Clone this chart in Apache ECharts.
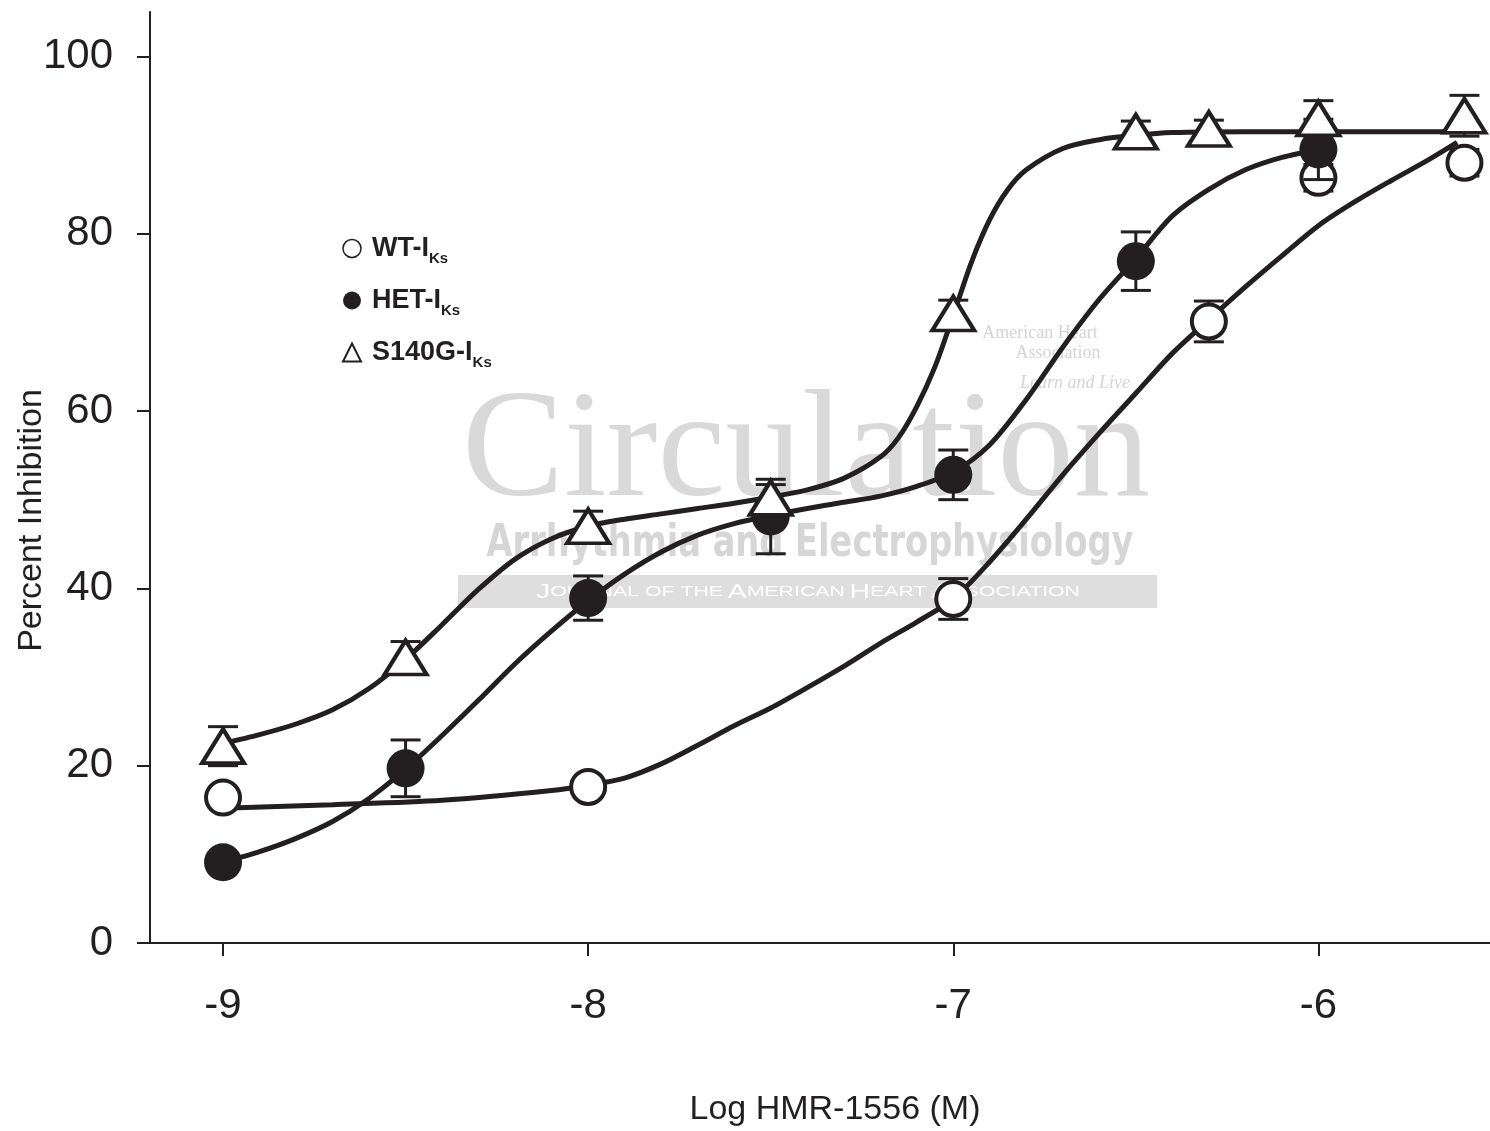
<!DOCTYPE html>
<html>
<head>
<meta charset="utf-8">
<script src="https://cdn.jsdelivr.net/npm/echarts@6/dist/echarts.min.js"></script>
<style>
html,body{margin:0;padding:0;background:#fff;}
#chart{width:1490px;height:1131px;}
</style>
</head>
<body>
<div id="chart"></div>
<script>
// ---- tick labels ----
const xTickValues = [-9, -8, -7, -6];
const yTickValues = [0, 20, 40, 60, 80, 100];

// ---- measured points (log concentration, percent inhibition, SEM) ----
const wtX   = [-9, -8, -7, -6.3, -6, -5.6];
const wtY   = [16.4, 17.6, 38.8, 70.1, 86.3, 88.0];
const wtErr = [1.0, 1.0, 2.3, 2.3, 1.5, 1.5];

const hetX   = [-9, -8.5, -8, -7.5, -7, -6.5, -6];
const hetY   = [9.1, 19.7, 38.9, 48.1, 52.8, 76.9, 89.5];
const hetErr = [1.0, 3.2, 2.5, 4.2, 2.8, 3.3, 3.4];

const triX   = [-9, -8.5, -8, -7.5, -7, -6.5, -6.3, -6, -5.6];
const triY   = [22.2, 32.2, 47.0, 50.2, 71.0, 91.5, 91.8, 93.0, 93.3];
const triErr = [2.2, 1.8, 1.7, 1.5, 1.5, 1.2, 1.0, 2.0, 2.3];

// ---- fitted curves ----
const wtCurveX = [-9.0, -8.7, -8.4, -8.1, -8.0, -7.9, -7.8, -7.7, -7.6, -7.5, -7.4, -7.3, -7.2, -7.1, -7.0, -6.9, -6.8, -6.7, -6.6, -6.5, -6.4, -6.3, -6.2, -6.1, -6.0, -5.9, -5.8, -5.7, -5.62];
const wtCurveY = [15.2, 15.6, 16.1, 17.2, 17.8, 18.6, 20.2, 22.3, 24.5, 26.5, 28.8, 31.2, 33.8, 36.2, 38.8, 43.0, 47.8, 52.8, 57.5, 62.0, 66.5, 70.3, 74.0, 77.5, 80.9, 83.6, 86.0, 88.3, 90.3];

const hetCurveX = [-9.0, -8.9, -8.8, -8.7, -8.6, -8.5, -8.4, -8.3, -8.2, -8.1, -8.0, -7.9, -7.8, -7.7, -7.6, -7.5, -7.4, -7.3, -7.2, -7.1, -7.0, -6.9, -6.8, -6.7, -6.6, -6.5, -6.4, -6.3, -6.2, -6.1, -6.0];
const hetCurveY = [9.1, 10.3, 11.8, 13.7, 16.3, 19.6, 23.4, 27.4, 31.5, 35.2, 38.6, 41.6, 44.1, 46.0, 47.3, 48.2, 49.0, 49.7, 50.4, 51.5, 53.1, 56.2, 61.3, 67.2, 72.6, 77.2, 82.0, 85.0, 87.2, 88.6, 89.5];

const triCurveX = [-9.0, -8.9, -8.8, -8.7, -8.6, -8.5, -8.4, -8.3, -8.2, -8.1, -8.0, -7.9, -7.8, -7.7, -7.6, -7.5, -7.4, -7.3, -7.2, -7.15, -7.1, -7.05, -7.0, -6.95, -6.9, -6.85, -6.8, -6.7, -6.6, -6.5, -6.4, -6.2, -6.0, -5.61];
const triCurveY = [22.5, 23.5, 24.7, 26.3, 28.7, 32.0, 35.9, 39.9, 43.3, 45.6, 47.0, 47.8, 48.4, 49.0, 49.6, 50.3, 51.1, 52.4, 54.8, 57.0, 60.5, 65.0, 70.8, 76.8, 81.6, 85.0, 87.2, 89.6, 90.6, 91.1, 91.4, 91.5, 91.5, 91.5];

const INK = '#231f20';
const FONT = "'Liberation Sans', Arial, Helvetica, sans-serif";

const zip2 = (a, b) => a.map((v, i) => [v, b[i]]);
const zip3 = (a, b, c) => a.map((v, i) => [v, b[i], c[i]]);

function errRender(params, api) {
  const x = api.value(0), y = api.value(1), e = api.value(2);
  const top = api.coord([x, y + e]);
  const bot = api.coord([x, y - e]);
  const hw = 15;
  const st = { stroke: INK, lineWidth: 3 };
  return {
    type: 'group',
    children: [
      { type: 'line', shape: { x1: top[0], y1: top[1], x2: bot[0], y2: bot[1] }, style: st },
      { type: 'line', shape: { x1: top[0] - hw, y1: top[1], x2: top[0] + hw, y2: top[1] }, style: st },
      { type: 'line', shape: { x1: bot[0] - hw, y1: bot[1], x2: bot[0] + hw, y2: bot[1] }, style: st }
    ]
  };
}

const chart = echarts.init(document.getElementById('chart'), null, { renderer: 'canvas' });

const subRich = {
  m: { fontSize: 27, fontWeight: 'bold', fontFamily: FONT, color: INK },
  s: { fontSize: 15, fontWeight: 'bold', fontFamily: FONT, color: INK, padding: [20, 0, 0, 0] }
};
const legendLabels = { 'WT': 'WT-I', 'HET': 'HET-I', 'S140G': 'S140G-I' };

const fitLine = { type: 'line', smooth: 0.3, showSymbol: false, silent: true };

const option = {
  animation: false,
  backgroundColor: '#ffffff',
  grid: { left: 150, right: 0, top: 12, bottom: 188, containLabel: false, outerBoundsMode: 'none' },
  xAxis: {
    type: 'value',
    min: -9.2, max: -5.53,
    name: 'Log HMR-1556 (M)',
    nameLocation: 'middle',
    nameGap: 150,
    nameMoveOverlap: false,
    nameTextStyle: { fontSize: 34, fontFamily: FONT, color: INK, padding: [0, 0, 0, 30] },
    axisLine: { onZero: false, lineStyle: { color: INK, width: 2 } },
    axisTick: { customValues: xTickValues, length: 13, lineStyle: { color: INK, width: 2 } },
    axisLabel: { customValues: xTickValues, fontSize: 42, fontFamily: FONT, color: INK, margin: 42 },
    splitLine: { show: false }
  },
  yAxis: {
    type: 'value',
    min: 0, max: 105,
    name: 'Percent Inhibition',
    nameLocation: 'middle',
    nameGap: 101,
    nameMoveOverlap: false,
    nameTextStyle: { fontSize: 34, fontFamily: FONT, color: INK, padding: [0, 86, 0, 0] },
    axisLine: { onZero: false, lineStyle: { color: INK, width: 2 } },
    axisTick: { customValues: yTickValues, length: 13, lineStyle: { color: INK, width: 2 } },
    axisLabel: { customValues: yTickValues, fontSize: 42, fontFamily: FONT, color: INK, margin: 37 },
    splitLine: { show: false }
  },
  legend: {
    orient: 'vertical',
    left: 337, top: 230,
    itemGap: 21,
    itemWidth: 18, itemHeight: 18,
    selectedMode: false,
    data: [
      { name: 'WT', icon: 'circle', itemStyle: { color: '#fff', borderColor: INK, borderWidth: 1.5 } },
      { name: 'HET', icon: 'circle', itemStyle: { color: INK, borderWidth: 0 } },
      { name: 'S140G', icon: 'triangle', itemStyle: { color: '#fff', borderColor: INK, borderWidth: 2 } }
    ],
    formatter: n => '{m|' + legendLabels[n] + '}{s|Ks}',
    textStyle: { rich: subRich, color: INK, padding: [0, 0, 0, 6] }
  },
  graphic: [
    { type: 'text', z: 0, x: 462, y: 455, style: { text: 'Circulation', fontSize: 153, fontFamily: "'Liberation Serif', 'DejaVu Serif', serif", fill: '#d9d9d9', align: 'left', verticalAlign: 'middle' } },
    { type: 'text', z: 0, x: 810, y: 545, scaleX: 0.85, style: { text: 'Arrhythmia and Electrophysiology', fontSize: 44, fontWeight: 'bold', fontFamily: "'Liberation Sans Narrow', 'DejaVu Sans Condensed', sans-serif", fill: '#d6d6d6', align: 'center', verticalAlign: 'middle' } },
    { type: 'rect', z: 0, shape: { x: 458, y: 575, width: 699, height: 33 }, style: { fill: '#dedede' } },
    { type: 'text', z: 0, x: 808, y: 592, scaleX: 1.42, style: {
        text: '{b|J}{s|OURNAL OF THE} {b|A}{s|MERICAN} {b|H}{s|EART} {b|A}{s|SSOCIATION}',
        align: 'center', verticalAlign: 'middle',
        rich: {
          b: { fontSize: 20, fontFamily: FONT, fill: '#ffffff' },
          s: { fontSize: 15, fontFamily: FONT, fill: '#ffffff' }
        }
      } },
    { type: 'text', z: 0, x: 1040, y: 333, style: { text: 'American Heart', fontSize: 18, fontFamily: "'Liberation Serif', serif", fill: '#d4d4d4', align: 'center', verticalAlign: 'middle' } },
    { type: 'text', z: 0, x: 1058, y: 353, style: { text: 'Association', fontSize: 18, fontFamily: "'Liberation Serif', serif", fill: '#d4d4d4', align: 'center', verticalAlign: 'middle' } },
    { type: 'text', z: 0, x: 1075, y: 383, style: { text: 'Learn and Live', fontSize: 18, fontStyle: 'italic', fontFamily: "'Liberation Serif', serif", fill: '#d4d4d4', align: 'center', verticalAlign: 'middle' } }
  ],
  series: [
    { name: 'WT-err', type: 'custom', z: 2, renderItem: errRender, data: zip3(wtX, wtY, wtErr), silent: true },
    Object.assign({}, fitLine, { name: 'WT-fit', z: 3, data: zip2(wtCurveX, wtCurveY), lineStyle: { color: INK, width: 5 } }),
    { name: 'WT', type: 'scatter', z: 4, symbol: 'circle', symbolSize: 34, data: zip2(wtX, wtY),
      itemStyle: { color: '#ffffff', borderColor: INK, borderWidth: 4, opacity: 1 } },

    { name: 'HET-err', type: 'custom', z: 5, renderItem: errRender, data: zip3(hetX, hetY, hetErr), silent: true },
    Object.assign({}, fitLine, { name: 'HET-fit', z: 6, data: zip2(hetCurveX, hetCurveY), lineStyle: { color: INK, width: 5 } }),
    { name: 'HET', type: 'scatter', z: 7, symbol: 'circle', symbolSize: 38, data: zip2(hetX, hetY),
      itemStyle: { color: INK, borderWidth: 0, opacity: 1 } },

    { name: 'S140G-err', type: 'custom', z: 8, renderItem: errRender, data: zip3(triX, triY, triErr), silent: true },
    Object.assign({}, fitLine, { name: 'S140G-fit', z: 9, data: zip2(triCurveX, triCurveY), lineStyle: { color: INK, width: 5 } }),
    { name: 'S140G', type: 'scatter', z: 10, symbol: 'triangle', symbolSize: [42, 34], data: zip2(triX, triY),
      itemStyle: { color: '#ffffff', borderColor: INK, borderWidth: 4, opacity: 1 } }
  ]
};
chart.setOption(option);
</script>
</body>
</html>
